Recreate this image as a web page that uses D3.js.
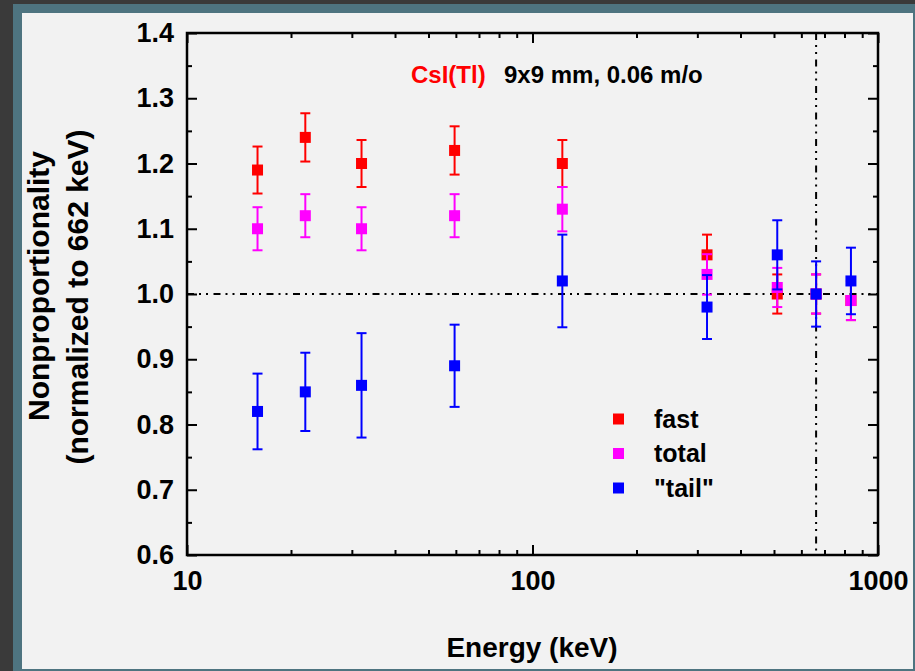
<!DOCTYPE html>
<html>
<head>
<meta charset="utf-8">
<script src="https://cdn.jsdelivr.net/npm/d3@7"></script>
<style>
  html, body { margin: 0; padding: 0; background: #3a3a3a; }
  svg { display: block; }
  text { font-family: "Liberation Sans", Arial, Helvetica, sans-serif; font-weight: bold; }
</style>
</head>
<body>
<svg id="chart" width="915" height="671"></svg>
<script>
// Gamma energies (keV)
const energies = [16, 22, 32, 59.5, 122, 320, 511, 662, 835];

// Nonproportionality, normalized to the 662 keV response
const fastValues  = [1.19, 1.24, 1.20, 1.22, 1.20, 1.06, 1.00, 1.00, 0.99];
const fastErrors  = [0.036, 0.037, 0.036, 0.037, 0.036, 0.031, 0.030, 0.030, 0.030];
const totalValues = [1.10, 1.12, 1.10, 1.12, 1.13, 1.03, 1.01, 1.00, 0.99];
const totalErrors = [0.033, 0.033, 0.033, 0.033, 0.034, 0.031, 0.030, 0.030, 0.030];
const tailValues  = [0.82, 0.85, 0.86, 0.89, 1.02, 0.98, 1.06, 1.00, 1.02];
const tailErrors  = [0.058, 0.060, 0.080, 0.063, 0.071, 0.049, 0.053, 0.050, 0.051];

const seriesNames  = ["fast", "total", "\"tail\""];
const seriesColors = ["#ff0000", "#ff00ff", "#0000ff"];

// Axis ticks
const yMajorTicks = [0.6, 0.7, 0.8, 0.9, 1.0, 1.1, 1.2, 1.3, 1.4];
const yMinorTicks = [0.65, 0.75, 0.85, 0.95, 1.05, 1.15, 1.25, 1.35];
const xMajorTicks = [10, 100, 1000];
const xMinorTicks = [20, 30, 40, 50, 60, 70, 80, 90, 200, 300, 400, 500, 600, 700, 800, 900];

// Reference lines
const referenceEnergy = 662;
const referenceLevel = 1.0;

const titleCrystal = "CsI(Tl)";
const titleDetails = "9x9 mm, 0.06 m/o";

const svg = d3.select("#chart");

// Window frame
svg.append("rect").attr("x", 0).attr("y", 0).attr("width", 915).attr("height", 671).attr("fill", "#3a3a3a");
svg.append("rect").attr("x", 13).attr("y", 4).attr("width", 902).attr("height", 667).attr("fill", "#4e7480");
svg.append("rect").attr("x", 22).attr("y", 13).attr("width", 891).attr("height", 656).attr("fill", "#f2f2f2");

const plot = { left: 187, right: 878, top: 33, bottom: 555 };

const x = d3.scaleLog().domain([10, 1000]).range([plot.left, plot.right]);
const y = d3.scaleLinear().domain([0.6, 1.4]).range([plot.bottom, plot.top]);

const tickFont = "27px";

function styleAxis(g) {
  g.select(".domain").remove();
  g.selectAll(".tick line").attr("stroke", "#000").attr("stroke-width", 2);
  g.selectAll(".tick text").attr("fill", "#000").style("font-size", tickFont);
}

// Bottom axis
svg.append("g").attr("transform", `translate(0,${plot.bottom})`)
  .call(d3.axisBottom(x).tickValues(xMajorTicks).tickSize(-10).tickPadding(16).tickFormat(d3.format("d")))
  .call(styleAxis);
svg.append("g").attr("transform", `translate(0,${plot.bottom})`)
  .call(d3.axisBottom(x).tickValues(xMinorTicks).tickSize(-5).tickFormat(""))
  .call(styleAxis);

// Top axis (ticks only)
svg.append("g").attr("transform", `translate(0,${plot.top})`)
  .call(d3.axisTop(x).tickValues(xMajorTicks).tickSize(-10).tickFormat(""))
  .call(styleAxis);
svg.append("g").attr("transform", `translate(0,${plot.top})`)
  .call(d3.axisTop(x).tickValues(xMinorTicks).tickSize(-5).tickFormat(""))
  .call(styleAxis);

// Left axis
svg.append("g").attr("transform", `translate(${plot.left},0)`)
  .call(d3.axisLeft(y).tickValues(yMajorTicks).tickSize(-10).tickPadding(13).tickFormat(d3.format(".1f")))
  .call(styleAxis);
svg.append("g").attr("transform", `translate(${plot.left},0)`)
  .call(d3.axisLeft(y).tickValues(yMinorTicks).tickSize(-5).tickFormat(""))
  .call(styleAxis);

// Right axis (ticks only)
svg.append("g").attr("transform", `translate(${plot.right},0)`)
  .call(d3.axisRight(y).tickValues(yMajorTicks).tickSize(-10).tickFormat(""))
  .call(styleAxis);
svg.append("g").attr("transform", `translate(${plot.right},0)`)
  .call(d3.axisRight(y).tickValues(yMinorTicks).tickSize(-5).tickFormat(""))
  .call(styleAxis);

// Plot frame
svg.append("rect")
  .attr("x", plot.left).attr("y", plot.top)
  .attr("width", plot.right - plot.left).attr("height", plot.bottom - plot.top)
  .attr("fill", "none").attr("stroke", "#000").attr("stroke-width", 2.5);

// Dash-dot-dot reference lines
const dashPattern = "7,5,2,5,2,5.5";
svg.append("line")
  .attr("x1", plot.left).attr("x2", plot.right)
  .attr("y1", y(referenceLevel)).attr("y2", y(referenceLevel))
  .attr("stroke", "#000").attr("stroke-width", 2).attr("stroke-dasharray", dashPattern);
svg.append("line")
  .attr("x1", x(referenceEnergy)).attr("x2", x(referenceEnergy))
  .attr("y1", plot.top).attr("y2", plot.bottom)
  .attr("stroke", "#000").attr("stroke-width", 2).attr("stroke-dasharray", dashPattern);

// Data series with error bars
const series = [
  { values: fastValues, errors: fastErrors },
  { values: totalValues, errors: totalErrors },
  { values: tailValues, errors: tailErrors }
];
const markerSize = 11;
const capHalf = 5;

series.forEach((s, si) => {
  const color = seriesColors[si];
  const pts = energies.map((e, i) => ({ e, v: s.values[i], err: s.errors[i] }));
  const g = svg.append("g");
  const eb = g.selectAll("g.err").data(pts).join("g").attr("class", "err")
    .attr("stroke", color).attr("stroke-width", 2);
  eb.append("line")
    .attr("x1", d => x(d.e)).attr("x2", d => x(d.e))
    .attr("y1", d => y(d.v + d.err)).attr("y2", d => y(d.v - d.err));
  eb.append("line")
    .attr("x1", d => x(d.e) - capHalf).attr("x2", d => x(d.e) + capHalf)
    .attr("y1", d => y(d.v + d.err)).attr("y2", d => y(d.v + d.err));
  eb.append("line")
    .attr("x1", d => x(d.e) - capHalf).attr("x2", d => x(d.e) + capHalf)
    .attr("y1", d => y(d.v - d.err)).attr("y2", d => y(d.v - d.err));
  g.selectAll("rect.pt").data(pts).join("rect").attr("class", "pt")
    .attr("x", d => x(d.e) - markerSize / 2).attr("y", d => y(d.v) - markerSize / 2)
    .attr("width", markerSize).attr("height", markerSize)
    .attr("fill", color);
});

// Title
const title = svg.append("text").attr("x", 411).attr("y", 83).style("font-size", "24px");
title.append("tspan").attr("fill", "#ff0000").text(titleCrystal);
title.append("tspan").attr("x", 504).attr("fill", "#000").text(titleDetails);

// Legend
const legend = svg.append("g");
seriesNames.forEach((name, i) => {
  const cy = 419 + i * 34.5;
  legend.append("rect").attr("x", 613).attr("y", cy - 5.5).attr("width", 11).attr("height", 11)
    .attr("fill", seriesColors[i]);
  legend.append("text").attr("x", 654).attr("y", cy + 8.5).style("font-size", "25px")
    .attr("fill", "#000").text(name);
});

// Axis titles
svg.append("text").attr("x", 532).attr("y", 657).attr("text-anchor", "middle")
  .style("font-size", "28px").attr("fill", "#000").text("Energy (keV)");
svg.append("text").attr("transform", "translate(49,286) rotate(-90)").attr("text-anchor", "middle")
  .style("font-size", "30px").attr("fill", "#000").text("Nonproportionality");
svg.append("text").attr("transform", "translate(88,297) rotate(-90)").attr("text-anchor", "middle")
  .style("font-size", "30px").attr("fill", "#000").text("(normalized to 662 keV)");
</script>
</body>
</html>
